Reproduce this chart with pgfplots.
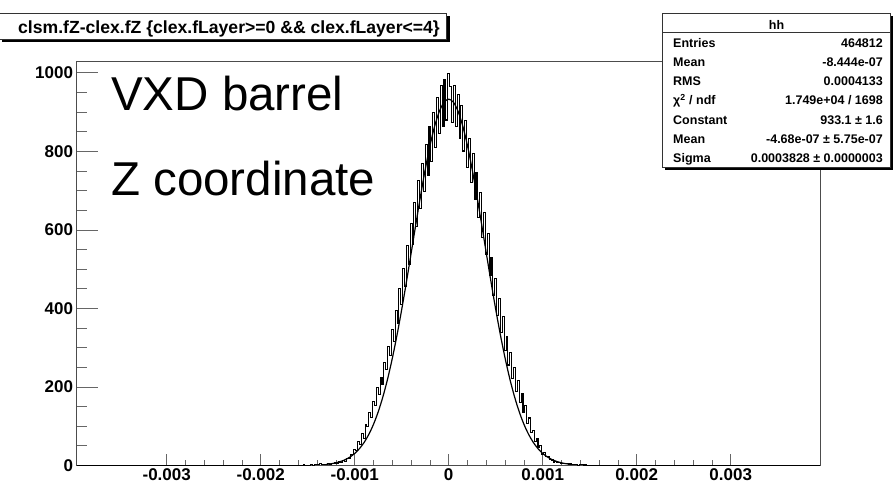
\documentclass[border=0pt]{standalone}
\usepackage{fontspec}
\setmainfont{Liberation Sans}
\usepackage{pgfplots}
\usepackage{pgfplotstable}
\pgfplotsset{compat=1.18}

% histogram: x in units of 1e-3, counts per bin
\pgfplotstableread{
x y
-3.96 0
-1.62 0
-1.60 0
-1.58 1
-1.56 0
-1.54 2
-1.52 1
-1.50 1
-1.48 0
-1.46 2
-1.44 1
-1.42 3
-1.40 2
-1.38 2
-1.36 4
-1.34 2
-1.32 3
-1.30 3
-1.28 5
-1.26 3
-1.24 5
-1.22 4
-1.20 7
-1.18 5
-1.16 9
-1.14 8
-1.12 13
-1.10 11
-1.08 19
-1.06 18
-1.04 29
-1.02 27
-1.00 41
-0.98 39
-0.96 61
-0.94 54
-0.92 81
-0.90 70
-0.88 105
-0.86 100
-0.84 136
-0.82 123
-0.80 163
-0.78 152
-0.76 199
-0.74 181
-0.72 223
-0.70 206
-0.68 263
-0.66 244
-0.64 304
-0.62 279
-0.60 346
-0.58 315
-0.56 395
-0.54 363
-0.52 450
-0.50 410
-0.48 502
-0.46 456
-0.44 561
-0.42 511
-0.40 617
-0.38 563
-0.36 670
-0.34 608
-0.32 725
-0.30 654
-0.28 770
-0.26 699
-0.24 817
-0.22 738
-0.20 863
-0.18 775
-0.16 899
-0.14 811
-0.12 938
-0.10 846
-0.08 967
-0.06 864
-0.04 983
-0.02 880
0.00 998
0.02 966
0.04 873
0.06 968
0.08 863
0.10 945
0.12 832
0.14 917
0.16 801
0.18 878
0.20 760
0.22 833
0.24 721
0.26 795
0.28 677
0.30 746
0.32 632
0.34 696
0.36 580
0.38 645
0.40 538
0.42 590
0.44 484
0.46 531
0.48 432
0.50 477
0.52 382
0.54 426
0.56 338
0.58 379
0.60 293
0.62 328
0.64 256
0.66 289
0.68 222
0.70 249
0.72 189
0.74 216
0.76 161
0.78 183
0.80 134
0.82 152
0.84 108
0.86 121
0.88 83
0.90 90
0.92 61
0.94 70
0.96 45
0.98 50
1.00 29
1.02 33
1.04 23
1.06 23
1.08 15
1.10 14
1.12 9
1.14 10
1.16 7
1.18 7
1.20 4
1.22 6
1.24 4
1.26 5
1.28 3
1.30 4
1.32 2
1.34 3
1.36 3
1.38 1
1.40 2
1.42 2
1.44 1
1.46 2
1.48 1
1.50 1
1.52 0
1.54 1
1.56 1
1.58 0
1.60 1
1.62 0
3.95 0
}\hist

% Gaussian fit values (Constant 933.1, Sigma 0.3828e-3)
\pgfplotstableread{
x y
-1.30 2.9
-1.25 4.5
-1.20 6.9
-1.15 10.2
-1.10 15.0
-1.05 21.7
-1.00 30.8
-0.95 42.9
-0.90 58.8
-0.85 79.3
-0.80 105.1
-0.75 136.9
-0.70 175.3
-0.65 220.7
-0.60 273.2
-0.55 332.4
-0.50 397.6
-0.45 467.6
-0.40 540.5
-0.35 614.3
-0.30 686.4
-0.25 753.9
-0.20 814.0
-0.15 864.1
-0.10 901.8
-0.05 925.2
0.00 933.1
0.05 925.2
0.10 901.8
0.15 864.1
0.20 814.0
0.25 753.9
0.30 686.4
0.35 614.3
0.40 540.5
0.45 467.6
0.50 397.6
0.55 332.4
0.60 273.2
0.65 220.7
0.70 175.3
0.75 136.9
0.80 105.1
0.85 79.3
0.90 58.8
0.95 42.9
1.00 30.8
1.05 21.7
1.10 15.0
1.15 10.2
1.20 6.9
1.25 4.5
1.30 2.9
}\fit

\begin{document}
\begin{tikzpicture}
\useasboundingbox (0pt,0pt) rectangle (893pt,-491pt);
\begin{axis}[
  at={(76.5pt,-465.5pt)}, anchor=south west,
  scale only axis, width=743.5pt, height=404pt,
  xmin=-3.96, xmax=3.95, ymin=0, ymax=1029,
  xtick={-3,-2,-1,0,1,2,3},
  xticklabels={-0.003,-0.002,-0.001,0,0.001,0.002,0.003},
  ytick={0,200,400,600,800,1000},
  yticklabels={0,200,400,600,800,1000},
  minor x tick num=4, minor y tick num=3,
  tick pos=left, tick align=inside,
  major tick length=22pt, minor tick length=11pt,
  axis line style={black!70, line width=0.8pt},
  tick style={black!60, line width=0.8pt},
  xtick style={/pgfplots/major tick length=12pt,/pgfplots/minor tick length=6pt},
  ticklabel style={font=\bfseries\fontsize{17}{17}\selectfont},
  clip=false,
]
\addplot[const plot mark mid, black, line width=1.05pt] table[x=x,y=y] {\hist};
\addplot[smooth, black, line width=1.2pt] table[x=x,y=y] {\fit};
\end{axis}

% title box
\fill[black] (1.5pt,-15.5pt) rectangle (449.5pt,-42pt);
\draw[draw=black!80, fill=white, line width=0.6pt] (-1pt,-13pt) rectangle (446.5pt,-39.5pt);
\node[anchor=base west, inner sep=0pt, font=\bfseries\fontsize{17.6}{17.6}\selectfont] at (18pt,-33pt)
  {clsm.fZ-clex.fZ \{clex.fLayer>=0 \&\& clex.fLayer<=4\}};

% stats box
\fill[black] (665pt,-15.5pt) rectangle (893pt,-169.5pt);
\draw[draw=black!80, fill=white, line width=0.6pt] (662.5pt,-13pt) rectangle (890.5pt,-167pt);
\draw[black!80, line width=0.6pt] (662.5pt,-32.5pt) -- (890.5pt,-32.5pt);
\begin{scope}[every node/.style={inner sep=0pt, font=\bfseries\fontsize{12.5}{12.5}\selectfont}]
\node[anchor=base] at (776.5pt,-29pt) {hh};
\node[anchor=base west] at (673pt,-47pt) {Entries};
\node[anchor=base east] at (883pt,-47pt) {464812};
\node[anchor=base west] at (673pt,-66.3pt) {Mean};
\node[anchor=base east] at (883pt,-66.3pt) {-8.444e-07};
\node[anchor=base west] at (673pt,-85.6pt) {RMS};
\node[anchor=base east] at (883pt,-85.6pt) {0.0004133};
\node[anchor=base west] at (673pt,-104.9pt) {χ\textsuperscript{2} / ndf};
\node[anchor=base east] at (883pt,-104.9pt) {1.749e+04 / 1698};
\node[anchor=base west] at (673pt,-124.2pt) {Constant};
\node[anchor=base east] at (883pt,-124.2pt) {933.1 ± 1.6};
\node[anchor=base west] at (673pt,-143.5pt) {Mean};
\node[anchor=base east] at (883pt,-143.5pt) {-4.68e-07 ± 5.75e-07};
\node[anchor=base west] at (673pt,-162.8pt) {Sigma};
\node[anchor=base east] at (883pt,-162.8pt) {0.0003828 ± 0.0000003};
\end{scope}

% annotations
\node[anchor=base west, inner sep=0pt, font=\fontsize{47.5}{47.5}\selectfont] at (111pt,-110pt) {VXD barrel};
\node[anchor=base west, inner sep=0pt, font=\fontsize{47.5}{47.5}\selectfont] at (111pt,-195pt) {Z coordinate};
\end{tikzpicture}
\end{document}
